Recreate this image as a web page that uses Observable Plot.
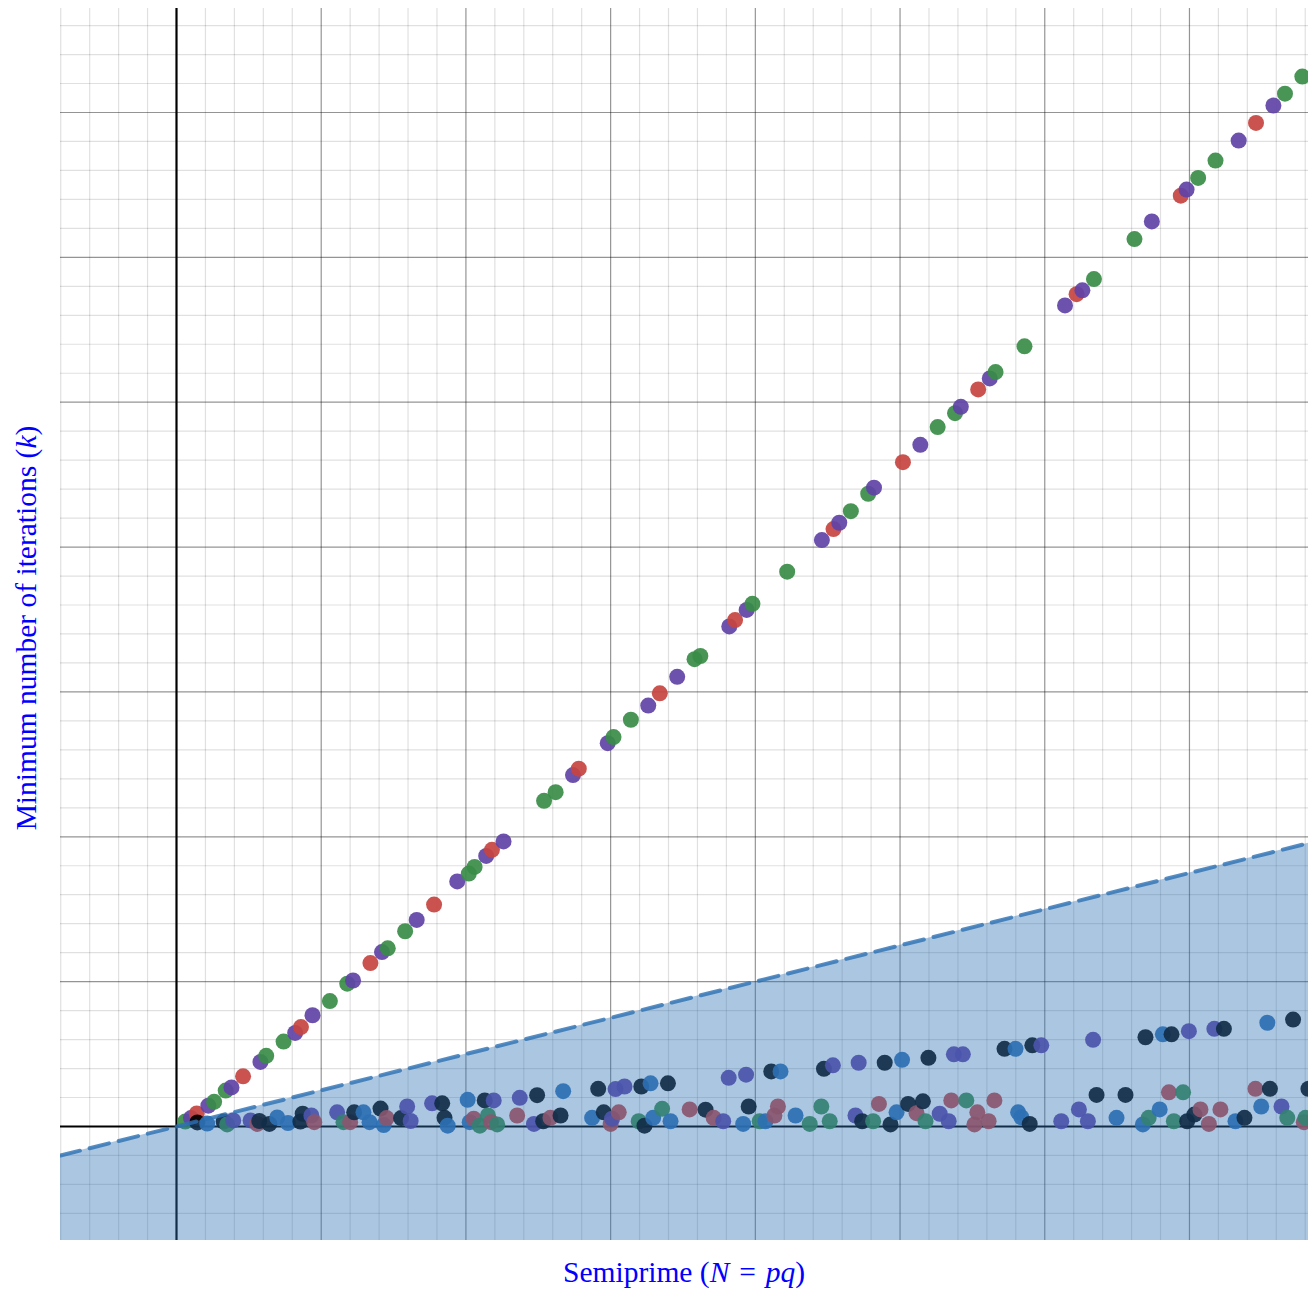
<!DOCTYPE html>
<html>
<head>
<meta charset="utf-8">
<script src="https://cdn.jsdelivr.net/npm/d3@7"></script>
<script src="https://cdn.jsdelivr.net/npm/@observablehq/plot@0.6"></script>
<style>
  html, body { margin: 0; padding: 0; background: #ffffff; }
  #chart svg { display: block; }
</style>
</head>
<body>
<div id="chart"></div>
<script>
// ---------- data ----------
// Upper diagonal: prime N values and their k
const primeN = [3,5,7,11,13,17,19,23,29,31,37,41,43,47,53,59,61,67,71,73,79,83,89,97,101,103,107,109,113,127,131,137,139,149,151,157,163,167,173,179,181,191,193,197,199,211,223,227,229,233,239,241,251,257,263,269,271,277,281,283,293,307,311,313,317,331,337,347,349,353,359,367,373,379,383,389];
const primeK = [1.7,2.9,4.5,7.2,8.5,12.4,13.5,17.3,22.3,24.4,29.3,32.3,34.3,38.4,43.3,49.3,50.4,56.4,60.2,61.5,67.4,71.3,76.6,84.6,87.3,89.6,93.4,95.5,98.4,112.4,115.4,121.3,123.5,132.3,134.4,140.4,145.3,149.5,155.2,161.3,162.4,172.6,174.8,178.3,180.4,191.5,202.4,206.2,208.4,212.4,218.4,220.5,229.3,235.3,241.4,246.2,248.4,254.4,258.2,260.4,269.3,283.4,287.3,288.6,292.5,306.3,312.4,321.3,323.4,327.4,333.4,340.3,346.4,352.4,356.5,362.4];
const primeColor = ["G","P","R","P","G","G","P","R","P","G","G","P","R","P","G","G","P","R","P","G","G","P","R","P","G","G","P","R","P","G","G","P","R","P","G","G","P","R","P","G","G","P","R","P","G","G","P","R","P","G","G","P","R","P","G","G","P","R","P","G","G","P","R","P","G","G","P","R","P","G","G","P","R","P","G","G"];

// Lower band: semiprime N values and their k
const semiN = [7.2,10.6,16.3,17.5,19.6,25.6,27.9,28.6,32.1,34.8,38.5,42.8,43.6,46.6,47.6,55.5,57.7,60.0,61.4,64.6,66.7,70.5,72.6,71.6,77.6,79.7,80.9,
  88.3,91.8,100.6,106.5,109.6,118.6,124.6,133.6,145.7,151.7,154.8,160.6,163.8,169.8,
  92.6,93.7,101.3,102.7,104.8,107.6,108.7,110.8,117.7,123.5,126.7,129.2,132.7,143.6,147.6,150.0,150.5,152.8,159.7,161.7,164.7,167.8,170.7,177.3,
  190.8,196.8,205.5,208.7,223.7,226.8,235.7,244.7,250.7,259.8,268.6,271.7,286.1,
  182.8,185.6,188.9,195.8,197.7,201.5,203.5,206.6,207.8,213.9,218.8,222.8,225.7,234.6,236.9,240.7,242.7,246.7,248.8,252.8,255.7,257.9,258.8,263.7,266.8,267.7,272.9,275.7,276.7,280.6,282.6,
  289.9,295.7,298.8,316.7,334.8,340.8,343.8,349.8,358.6,361.9,376.9,385.8,
  290.8,291.9,294.8,305.7,311.8,314.9,317.9,324.8,327.9,333.9,335.9,339.7,342.9,344.6,347.8,349.2,351.7,353.8,356.7,360.7,365.9,369.0,372.8,374.8,377.8,381.8,383.8,389.5,390.1,391.1];
const semiK = [1.4,1.0,1.7,0.7,2.1,2.1,0.9,1.9,0.9,3.1,1.2,1.7,4.4,3.8,1.5,4.9,1.5,1.5,4.9,4.9,1.5,6.2,2.9,0.5,2.9,6.9,1.9,
  8.0,8.0,9.2,9.0,9.0,9.9,10.8,12.2,13.0,12.9,13.8,13.8,14.9,14.9,
  3.0,0.3,1.5,2.7,0.3,3.8,1.5,0.7,3.8,0.9,1.8,3.0,3.8,3.0,4.9,0.9,2.7,4.9,1.8,0.3,3.0,6.1,1.8,5.9,
  16.8,17.9,19.0,19.0,19.9,21.1,22.0,22.0,23.0,23.7,24.9,24.9,26.8,
  5.8,3.0,1.8,0.9,6.9,1.8,1.8,3.8,6.9,3.8,0.9,6.9,1.8,3.8,1.8,1.8,7.8,0.7,4.9,7.8,4.6,8.7,1.8,4.4,1.8,9.0,9.0,0.7,4.9,1.8,9.0,
  26.8,28.0,28.0,29.9,30.8,31.8,31.8,32.9,33.7,33.7,35.8,36.9,
  4.9,3.2,0.9,1.8,5.9,1.8,10.9,3.0,10.9,0.7,3.0,5.9,11.8,1.8,11.8,1.8,4.1,5.9,0.9,5.9,1.8,3.0,13.0,6.9,13.0,6.9,3.0,1.5,3.0,13.0];
const semiColor = ["K","B","K","G","P","P","R","K","K","B","B","K","K","P","R","P","G","R","K","B","B","K","R","B","K","P","P",
  "P","K","B","K","P","P","K","B","K","P","P","K","B","K",
  "K","B","B","R","G","G","R","G","R","P","K","R","K","B","K","R","P","R","G","K","B","G","B","R",
  "P","P","K","B","K","P","P","K","B","K","P","P","K",
  "K","R","P","B","K","G","B","R","R","B","G","G","G","P","K","G","R","K","B","K","R","K","G","P","P","R","G","R","R","R","R",
  "B","K","P","P","K","B","K","P","P","K","B","K",
  "B","B","K","P","P","P","K","B","K","B","G","B","R","G","G","K","K","R","R","R","B","K","R","B","K","P","G","R","G","K"];

const palette = {R: "#c74440", B: "#2d70b3", G: "#388c46", P: "#6042a6", K: "#000000"};

// view window and the k = N/4 bound
const xDomain = [-40.08, 391.13];
const yDomain = [-39.35, 385.89];
const boundSlope = 1 / 4;

// grid spacing
const minorStep = 10, majorStep = 50;

// ---------- build ----------
const points = d3.sort(
  [
    ...primeN.map((n, i) => ({N: n, k: primeK[i], c: primeColor[i]})),
    ...semiN.map((n, i) => ({N: n, k: semiK[i], c: semiColor[i]}))
  ],
  d => d.N
);

const minorX = d3.range(Math.ceil(xDomain[0] / minorStep) * minorStep, xDomain[1], minorStep).filter(v => v % majorStep !== 0);
const minorY = d3.range(Math.ceil(yDomain[0] / minorStep) * minorStep, yDomain[1], minorStep).filter(v => v % majorStep !== 0);
const majorX = d3.range(Math.ceil(xDomain[0] / majorStep) * majorStep, xDomain[1], majorStep).filter(v => v !== 0);
const majorY = d3.range(Math.ceil(yDomain[0] / majorStep) * majorStep, yDomain[1], majorStep).filter(v => v !== 0);
const boundX = xDomain;

const W = 1315, H = 1290;
const mL = 60, mR = 7, mT = 8, mB = 50;

const plot = Plot.plot({
  width: W,
  height: H,
  marginLeft: mL,
  marginRight: mR,
  marginTop: mT,
  marginBottom: mB,
  x: {domain: xDomain, axis: null},
  y: {domain: yDomain, axis: null},
  style: {background: "#ffffff", overflow: "visible"},
  marks: [
    Plot.ruleX(minorX, {stroke: "#000", strokeOpacity: 0.12, strokeWidth: 1.2}),
    Plot.ruleY(minorY, {stroke: "#000", strokeOpacity: 0.12, strokeWidth: 1.2}),
    Plot.ruleX(majorX, {stroke: "#000", strokeOpacity: 0.42, strokeWidth: 1.2}),
    Plot.ruleY(majorY, {stroke: "#000", strokeOpacity: 0.42, strokeWidth: 1.2}),
    Plot.ruleX([0], {stroke: "#000", strokeWidth: 2.2}),
    Plot.ruleY([0], {stroke: "#000", strokeWidth: 2.2}),
    Plot.dot(points, {
      x: "N", y: "k", r: 8,
      fill: d => palette[d.c], fillOpacity: 0.92,
      stroke: "none", clip: true
    }),
    Plot.areaY(boundX, {
      x: d => d, y1: yDomain[0], y2: d => d * boundSlope,
      fill: "#2d70b3", fillOpacity: 0.4, clip: true
    }),
    Plot.lineY(boundX, {
      x: d => d, y: d => d * boundSlope,
      stroke: "#2d70b3", strokeOpacity: 0.8, strokeWidth: 4,
      strokeDasharray: "20,10", clip: true
    })
  ]
});

const svg = d3.select(plot);
const labelColor = "#0000ff";
const fontFam = "'Liberation Serif', 'Times New Roman', 'DejaVu Serif', serif";

const xl = svg.append("text")
  .attr("x", (mL + (W - mR)) / 2)
  .attr("y", 1282)
  .attr("text-anchor", "middle")
  .attr("font-family", fontFam)
  .attr("font-size", 29.5)
  .attr("fill", labelColor);
xl.append("tspan").text("Semiprime (");
xl.append("tspan").attr("font-style", "italic").text("N");
xl.append("tspan").text("\u2004=\u2004");
xl.append("tspan").attr("font-style", "italic").text("pq");
xl.append("tspan").text(")");

const yl = svg.append("text")
  .attr("transform", `translate(36,${(mT + (H - mB)) / 2 + 4}) rotate(-90)`)
  .attr("text-anchor", "middle")
  .attr("font-family", fontFam)
  .attr("font-size", 29.5)
  .attr("fill", labelColor);
yl.append("tspan").text("Minimum number of iterations (");
yl.append("tspan").attr("font-style", "italic").text("k");
yl.append("tspan").text(")");

document.getElementById("chart").appendChild(plot);
</script>
</body>
</html>
